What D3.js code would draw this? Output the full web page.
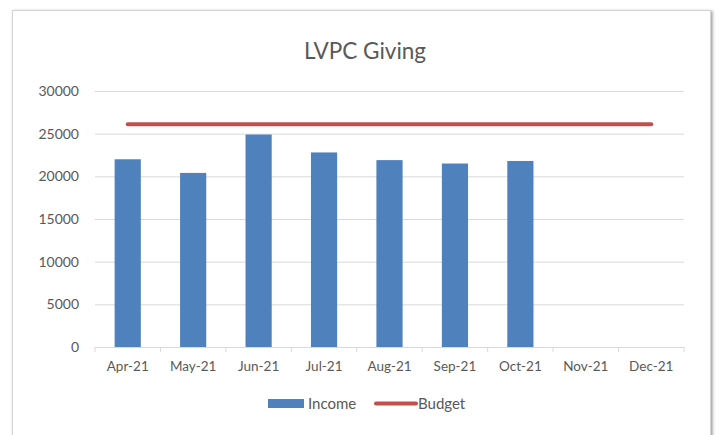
<!DOCTYPE html>
<html>
<head>
<meta charset="utf-8">
<script src="https://cdn.jsdelivr.net/npm/d3@7"></script>
<style>
  body { margin: 0; background: #fff; }
  svg { display: block; font-family: Lato, "Open Sans", sans-serif; }
</style>
</head>
<body>
<script>
const months = ['Apr-21', 'May-21', 'Jun-21', 'Jul-21', 'Aug-21', 'Sep-21', 'Oct-21', 'Nov-21', 'Dec-21'];
const income = [22000, 20400, 24900, 22800, 21900, 21500, 21800, null, null];
const budget = [26100, 26100, 26100, 26100, 26100, 26100, 26100, 26100, 26100];
const yTicks = [0, 5000, 10000, 15000, 20000, 25000, 30000];

const w = 721, h = 435;
const padL = 95, padR = 684, padT = 91, padB = 347;

const svg = d3.select('body').append('svg')
  .attr('width', w).attr('height', h);

// chart frame with soft shadow
const defs = svg.append('defs');
const f = defs.append('filter').attr('id', 'sh').attr('x', '-5%').attr('y', '-5%').attr('width', '110%').attr('height', '110%');
f.append('feDropShadow').attr('dx', 1.5).attr('dy', 1).attr('stdDeviation', 1.5).attr('flood-color', '#000').attr('flood-opacity', 0.4);

svg.append('rect')
  .attr('x', 12.5).attr('y', 10.5).attr('width', 698).attr('height', 440)
  .attr('fill', '#fff').attr('stroke', '#d4d4d4').attr('filter', 'url(#sh)');

const x = d3.scaleBand().domain(months).range([padL, padR]).paddingInner(0.6).paddingOuter(0.3);
const xb = d3.scaleBand().domain(months).range([padL, padR]);
const y = d3.scaleLinear().domain([0, 30000]).range([padB, padT]);

svg.append('text')
  .attr('x', 365).attr('y', 58.5).attr('text-anchor', 'middle')
  .attr('font-size', 22.5).attr('fill', '#595959').text('LVPC Giving');

// gridlines + y labels
const yAxis = d3.axisLeft(y).tickValues(yTicks).tickSize(-(padR - padL)).tickFormat(d3.format('d'));
svg.append('g').attr('class', 'y-axis')
  .attr('transform', `translate(${padL},0)`)
  .call(yAxis)
  .call(g => g.select('.domain').remove())
  .call(g => g.selectAll('.tick line').attr('stroke', '#d9d9d9').attr('stroke-width', 1))
  .call(g => g.selectAll('.tick text').attr('x', -16).attr('fill', '#595959').attr('font-size', 14).attr('font-family', 'Lato, sans-serif'));

// bars
svg.append('g').selectAll('rect')
  .data(months.map((m, i) => ({ m, v: income[i] })).filter(d => d.v != null))
  .enter().append('rect')
  .attr('x', d => x(d.m))
  .attr('width', x.bandwidth())
  .attr('y', d => y(d.v))
  .attr('height', d => y(0) - y(d.v))
  .attr('fill', '#4F81BD');

// x axis
const xAxis = d3.axisBottom(xb).tickSize(0).tickPadding(14);
svg.append('g').attr('class', 'x-axis')
  .attr('transform', `translate(0,${padB})`)
  .call(xAxis)
  .call(g => g.select('.domain').attr('stroke', '#d9d9d9'))
  .call(g => g.selectAll('.tick text').attr('fill', '#595959').attr('font-size', 13.5).attr('font-family', 'Lato, sans-serif'));

svg.append('g').selectAll('line')
  .data(d3.range(months.length + 1))
  .enter().append('line')
  .attr('x1', i => padL + xb.step() * i).attr('x2', i => padL + xb.step() * i)
  .attr('y1', padB).attr('y2', padB + 5)
  .attr('stroke', '#d9d9d9');

// budget line
const line = d3.line()
  .x((d, i) => xb(months[i]) + xb.bandwidth() / 2)
  .y(d => y(d));
svg.append('path')
  .datum(budget)
  .attr('d', line)
  .attr('fill', 'none')
  .attr('stroke', '#C0504D')
  .attr('stroke-width', 4)
  .attr('stroke-linecap', 'round');

// legend
const lg = svg.append('g').attr('transform', 'translate(0,403.5)');
lg.append('rect').attr('x', 268).attr('y', -4.5).attr('width', 36).attr('height', 9).attr('fill', '#4F81BD');
lg.append('text').attr('x', 308).attr('y', 5.5).attr('font-size', 15).attr('fill', '#595959').text('Income');
lg.append('line').attr('x1', 376).attr('x2', 416).attr('y1', 0).attr('y2', 0)
  .attr('stroke', '#C0504D').attr('stroke-width', 4).attr('stroke-linecap', 'round');
lg.append('text').attr('x', 418).attr('y', 5.5).attr('font-size', 15).attr('fill', '#595959').text('Budget');
</script>
</body>
</html>
